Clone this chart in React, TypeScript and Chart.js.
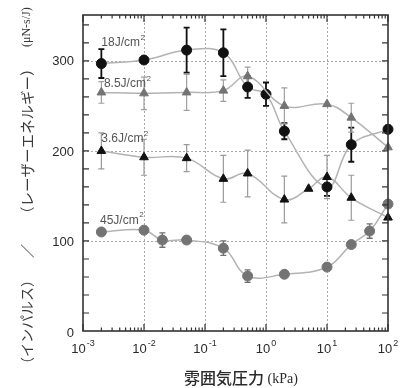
import React, { useEffect, useRef } from "react";
import { Chart, registerables } from "chart.js";

Chart.register(...registerables);

// ---- data ----
const x18 = [0.002, 0.01, 0.05, 0.2, 0.5, 1, 2, 10, 25, 100];
const y18 = [297, 301, 312, 309, 271, 263, 222, 160, 207, 224];
const e18 = [16, 0, 25, 26, 12, 13, 9, 10, 19, 4];

const x85 = [0.002, 0.01, 0.05, 0.2, 0.5, 2, 10, 25, 100];
const y85 = [265, 264, 265, 267, 283, 250, 252, 237, 204];
const e85 = [12, 18, 20, 12, 10, 20, 0, 16, 0];

const x36 = [0.002, 0.01, 0.05, 0.2, 0.5, 2, 5, 10, 25, 100];
const y36 = [200, 193, 192, 169, 175, 146, 158, 171, 148, 126];
const e36 = [20, 20, 15, 26, 26, 26, 0, 24, 25, 0];

const x45 = [0.002, 0.01, 0.02, 0.05, 0.2, 0.5, 2, 10, 25, 50, 100];
const y45 = [110, 112, 101, 101, 92, 61, 63, 71, 96, 111, 141];
const e45 = [0, 0, 8, 0, 8, 7, 0, 0, 0, 8, 0];

const seriesLabels = ["18J/cm", "8.5J/cm", "3.6J/cm", "45J/cm"];
const labelAnchorX = [0.002, 0.0022, 0.002, 0.0019];
const labelAnchorY = [320, 275, 214, 123];

const xTickExps = [-3, -2, -1, 0, 1, 2];
const yTickLabels = [0, 100, 200, 300];

const X_MIN = 0.001;
const X_MAX = 100;
const Y_MIN = 0;
const Y_MAX = 351;

const LINE_GRAY = "#b3b3b3";
const DARK = "#111111";
const MID = "#737373";

function pts(xs: number[], ys: number[]) {
  return xs.map((x, i) => ({ x, y: ys[i] }));
}

const errSets = [
  { xs: x18, ys: y18, es: e18, color: DARK, width: 1.8 },
  { xs: x85, ys: y85, es: e85, color: "#a0a0a0", width: 1.2 },
  { xs: x36, ys: y36, es: e36, color: "#9a9a9a", width: 1.2 },
  { xs: x45, ys: y45, es: e45, color: "#707070", width: 1.3 },
];

const decorPlugin = {
  id: "decor",
  beforeDatasetsDraw(chart: any) {
    const { ctx, chartArea: a, scales } = chart;
    const xs = scales.x;
    const ys = scales.y;
    ctx.save();
    ctx.strokeStyle = "#a8a8a8";
    ctx.lineWidth = 1;
    ctx.setLineDash([2, 2]);
    for (let d = -2; d <= 1; d++) {
      const px = Math.round(xs.getPixelForValue(Math.pow(10, d))) + 0.5;
      ctx.beginPath();
      ctx.moveTo(px, a.top);
      ctx.lineTo(px, a.bottom);
      ctx.stroke();
    }
    for (const v of [100, 200, 300]) {
      const py = Math.round(ys.getPixelForValue(v)) + 0.5;
      ctx.beginPath();
      ctx.moveTo(a.left, py);
      ctx.lineTo(a.right, py);
      ctx.stroke();
    }
    ctx.setLineDash([]);
    for (const s of errSets) {
      ctx.strokeStyle = s.color;
      ctx.lineWidth = s.width;
      s.xs.forEach((xv, i) => {
        const e = s.es[i];
        if (!e) return;
        const px = xs.getPixelForValue(xv);
        const p1 = ys.getPixelForValue(s.ys[i] + e);
        const p2 = ys.getPixelForValue(s.ys[i] - e);
        ctx.beginPath();
        ctx.moveTo(px, p1);
        ctx.lineTo(px, p2);
        ctx.moveTo(px - 3, p1);
        ctx.lineTo(px + 3, p1);
        ctx.moveTo(px - 3, p2);
        ctx.lineTo(px + 3, p2);
        ctx.stroke();
      });
    }
    ctx.restore();
  },
  afterDraw(chart: any) {
    const { ctx, chartArea: a, scales } = chart;
    const xs = scales.x;
    const ys = scales.y;
    ctx.save();
    ctx.strokeStyle = "#333";
    ctx.lineWidth = 1.6;
    ctx.strokeRect(a.left, a.top, a.right - a.left, a.bottom - a.top);
    ctx.lineWidth = 1.2;
    for (let d = -3; d <= 2; d++) {
      for (let m = 1; m <= 9; m++) {
        const v = m * Math.pow(10, d);
        if (v > X_MAX + 1e-9) break;
        const px = xs.getPixelForValue(v);
        const len = m === 1 ? 7 : 3.5;
        ctx.beginPath();
        ctx.moveTo(px, a.bottom);
        ctx.lineTo(px, a.bottom - len);
        ctx.moveTo(px, a.top);
        ctx.lineTo(px, a.top + len);
        ctx.stroke();
      }
    }
    for (let v = 20; v < Y_MAX; v += 20) {
      const py = ys.getPixelForValue(v);
      ctx.beginPath();
      ctx.moveTo(a.left, py);
      ctx.lineTo(a.left + 6, py);
      ctx.moveTo(a.right, py);
      ctx.lineTo(a.right - 6, py);
      ctx.stroke();
    }
    ctx.fillStyle = "#2a2a2a";
    ctx.font = '13px "Liberation Sans", Arial, sans-serif';
    ctx.textAlign = "right";
    ctx.textBaseline = "middle";
    for (const v of yTickLabels) {
      const py = ys.getPixelForValue(v);
      ctx.fillText(String(v), 74, v === 0 ? py + 2 : py + 1);
    }
    for (const ex of xTickExps) {
      const px = xs.getPixelForValue(Math.pow(10, ex));
      const base = "10";
      const sup = String(ex);
      ctx.font = '13px "Liberation Sans", Arial, sans-serif';
      const wb = ctx.measureText(base).width;
      ctx.font = '9px "Liberation Sans", Arial, sans-serif';
      const ws = ctx.measureText(sup).width;
      const start = px - (wb + ws + 1) / 2;
      ctx.textAlign = "left";
      ctx.textBaseline = "alphabetic";
      ctx.font = '13px "Liberation Sans", Arial, sans-serif';
      ctx.fillText(base, start, 353);
      ctx.font = '9px "Liberation Sans", Arial, sans-serif';
      ctx.fillText(sup, start + wb + 1, 346);
    }
    ctx.fillStyle = "#555";
    seriesLabels.forEach((t, i) => {
      const px = xs.getPixelForValue(labelAnchorX[i]);
      const py = ys.getPixelForValue(labelAnchorY[i]);
      ctx.font = '12px "Liberation Sans", Arial, sans-serif';
      ctx.textAlign = "left";
      ctx.textBaseline = "middle";
      ctx.fillText(t, px, py);
      const w = ctx.measureText(t).width;
      ctx.font = '8px "Liberation Sans", Arial, sans-serif';
      ctx.fillText("2", px + w + 0.5, py - 5);
    });
    // x title
    ctx.fillStyle = "#2a2a2a";
    ctx.textBaseline = "middle";
    ctx.textAlign = "left";
    ctx.font = '500 16px "Noto Sans CJK JP", sans-serif';
    const t1 = "雰囲気圧力";
    const w1 = ctx.measureText(t1).width;
    ctx.font = '14px "Liberation Serif", serif';
    const t2 = " (kPa)";
    const w2 = ctx.measureText(t2).width;
    const cx = 241;
    const sx = cx - (w1 + w2) / 2;
    ctx.font = '500 16px "Noto Sans CJK JP", sans-serif';
    ctx.fillText(t1, sx, 378);
    ctx.font = '14px "Liberation Serif", serif';
    ctx.fillText(t2, sx + w1, 379);
    // y title (rotated)
    ctx.fillStyle = "#3a3a3a";
    ctx.translate(27, 371);
    ctx.rotate(-Math.PI / 2);
    ctx.textBaseline = "middle";
    ctx.font = '14px "Noto Sans CJK JP", sans-serif';
    ctx.textAlign = "left";
    ctx.fillText("（インパルス）", 0, 0);
    ctx.textAlign = "center";
    ctx.fillText("／", 120, 0);
    ctx.textAlign = "left";
    ctx.font = '14.5px "Noto Sans CJK JP", sans-serif';
    ctx.fillText("（レーザーエネルギー）", 150, 0);
    ctx.font = '12px "Liberation Serif", serif';
    ctx.fillText("(μN-s/J)", 324, 0);
    ctx.restore();
  },
};

function makeDataset(xs: number[], ys: number[], style: string, color: string) {
  return {
    data: pts(xs, ys),
    borderColor: LINE_GRAY,
    borderWidth: 1.5,
    tension: 0.4,
    pointStyle: style,
    pointRadius: 5,
    pointBackgroundColor: color,
    pointBorderColor: color,
    pointBorderWidth: 1,
    clip: false,
    fill: false,
  };
}

export default function App() {
  const ref = useRef<HTMLCanvasElement | null>(null);
  useEffect(() => {
    if (!ref.current) return;
    const chart = new Chart(ref.current, {
      type: "line",
      data: {
        datasets: [
          makeDataset(x45, y45, "circle", MID),
          makeDataset(x36, y36, "triangle", DARK),
          makeDataset(x85, y85, "triangle", MID),
          makeDataset(x18, y18, "circle", DARK),
        ] as any,
      },
      options: {
        responsive: false,
        animation: false,
        layout: { padding: { left: 83, right: 15, top: 15, bottom: 57 } },
        plugins: { legend: { display: false }, tooltip: { enabled: false } },
        scales: {
          x: { type: "logarithmic", min: X_MIN, max: X_MAX, display: false },
          y: { type: "linear", min: Y_MIN, max: Y_MAX, display: false },
        },
      },
      plugins: [decorPlugin],
    });
    return () => chart.destroy();
  }, []);
  return (
    <div style={{ position: "absolute", left: 0, top: 0, width: 403, height: 388, background: "#fff" }}>
      <canvas ref={ref} width={403} height={388} />
    </div>
  );
}
